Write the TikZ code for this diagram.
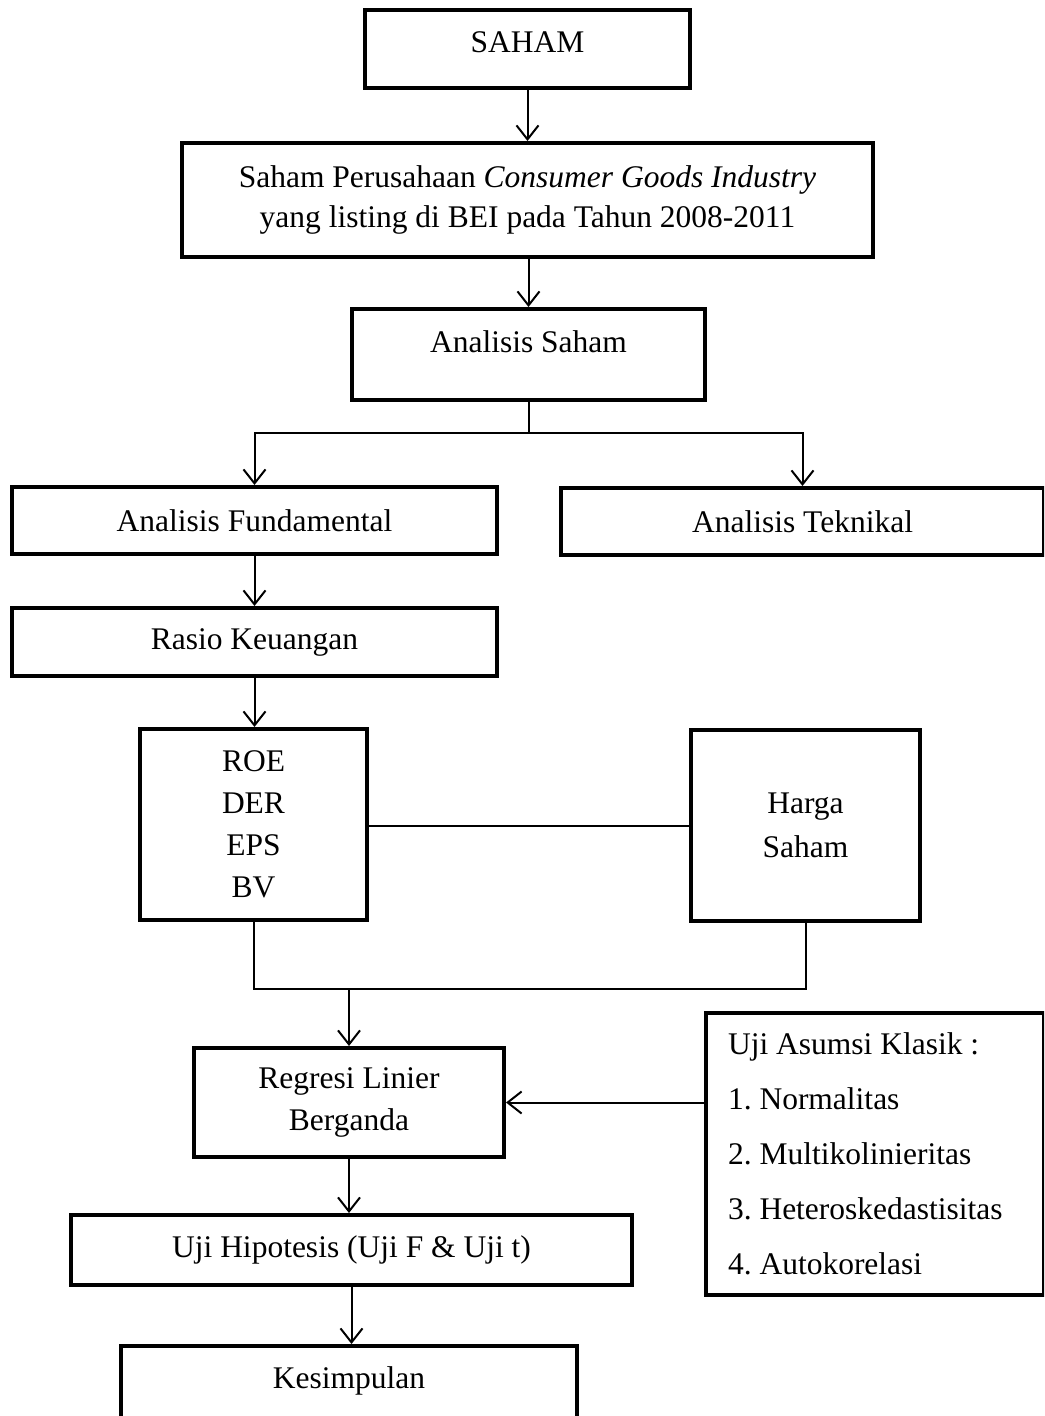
\documentclass[tikz,border=0pt]{standalone}
\usepackage{fontspec}
\setmainfont{Liberation Serif}
\usetikzlibrary{arrows.meta}
\begin{document}
\begin{tikzpicture}[x=1pt,y=-1pt,
  box/.style={draw, rectangle, line width=4pt, inner sep=0pt, align=center},
  conn/.style={line width=2pt},
  arr/.style={conn, -{Straight Barb[length=14pt,width=22pt]}},
  font=\fontsize{31.5}{42}\selectfont]
\useasboundingbox (0,0) rectangle (1044,1416);
\clip (0,0) rectangle (1044,1416);
\fill[white] (0,0) rectangle (1044,1416);

\node[box, minimum width=325pt, minimum height=78pt, text height=21pt, text depth=15pt] (saham) at (527.5,49) {SAHAM};
\node[box, minimum width=691pt, minimum height=114pt, font=\fontsize{31.5}{40}\selectfont] (perus) at (527.5,200)
  {Saham Perusahaan \textit{Consumer Goods Industry}\\yang listing di BEI pada Tahun 2008-2011};
\node[box, minimum width=353pt, minimum height=91pt, text height=21pt, text depth=26pt] (asaham) at (528.5,354.5) {Analisis Saham};
\node[box, minimum width=485pt, minimum height=67pt] (fund) at (254.5,520.5) {Analisis Fundamental};
\node[box, minimum width=483pt, minimum height=67pt] (tek) at (802.5,521.5) {Analisis Teknikal};
\node[box, minimum width=485pt, minimum height=68pt] (rasio) at (254.5,642) {Rasio Keuangan};
\node[box, minimum width=227pt, minimum height=191pt] (roe) at (253.5,824.5) {ROE\\DER\\EPS\\BV};
\node[box, minimum width=229pt, minimum height=191pt, font=\fontsize{31.5}{44}\selectfont] (harga) at (805.5,825.5) {Harga\\Saham};
\node[box, minimum width=310pt, minimum height=109pt] (reg) at (349,1102.5) {Regresi Linier\\Berganda};
\node[box, minimum width=338pt, minimum height=282pt, text width=294pt, inner xsep=22pt, align=flush left,
  font=\fontsize{31.5}{55}\selectfont\frenchspacing] (uji) at (875,1154)
  {Uji Asumsi Klasik :\\1. Normalitas\\2. Multikolinieritas\\3. Heteroskedastisitas\\4. Autokorelasi};
\node[box, minimum width=561pt, minimum height=70pt] (hip) at (351.5,1250) {Uji Hipotesis (Uji F \& Uji t)};
\node[box, minimum width=456pt, minimum height=100pt, text height=21pt, text depth=37pt] (kes) at (349,1396) {Kesimpulan};

\coordinate (br) at (528.5,433);
\coordinate (jn) at (349,989);

\draw[arr] (saham.south) -- (saham.south |- perus.north);
\draw[arr] (perus.south) -- (perus.south -| asaham.north) -- (asaham.north);
\draw[conn] (asaham.south) -- (br);
\draw[arr] (br) -| (fund.north);
\draw[arr] (br) -| (tek.north);
\draw[arr] (fund.south) -- (rasio.north);
\draw[arr] (rasio.south) -- (rasio.south |- roe.north);
\draw[conn] (roe.east |- harga.west) -- (harga.west);
\draw[conn] (roe.south) -- (roe.south |- jn) -- (harga.south |- jn) -- (harga.south);
\draw[arr] (jn) -- (reg.north);
\draw[arr] (uji.west |- reg.east) -- (reg.east);
\draw[arr] (reg.south) -- (reg.south |- hip.north);
\draw[arr] (hip.south) -- (hip.south |- kes.north);
\end{tikzpicture}
\end{document}
